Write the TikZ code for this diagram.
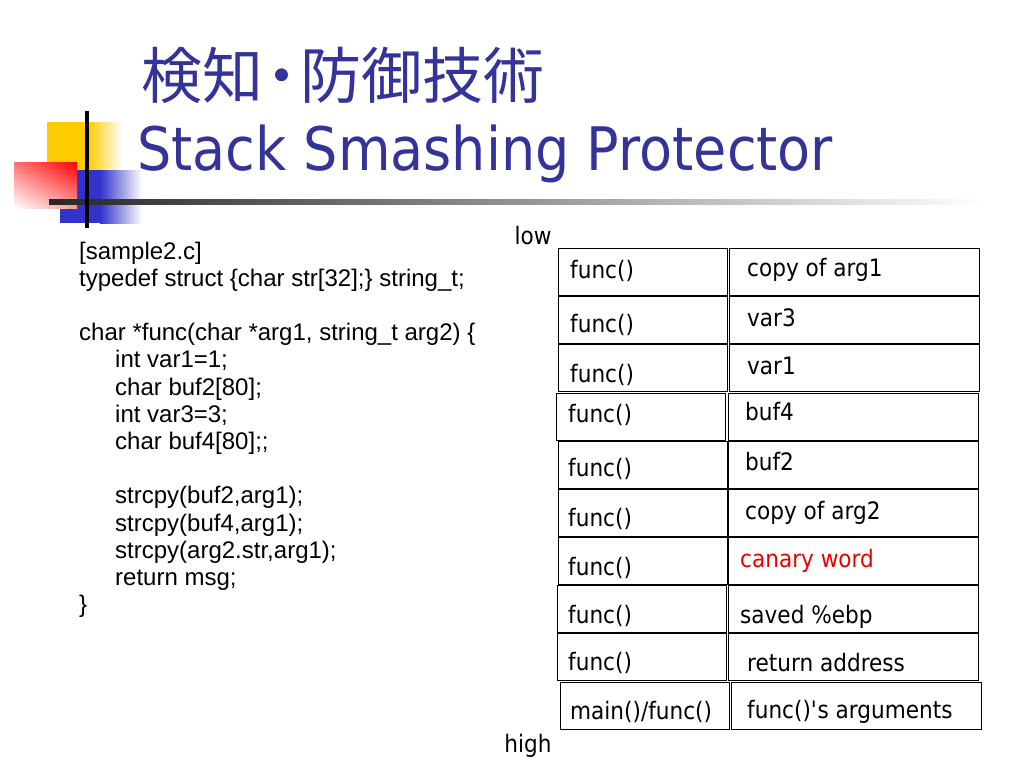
\documentclass[tikz,border=0pt]{standalone}
\usepackage{fontspec}
\usetikzlibrary{shadings}
\setmainfont{Liberation Sans}
\newfontfamily\tahoma[FakeStretch=0.9]{DejaVu Sans}
\newfontfamily\jpfont{Noto Sans CJK JP}
\definecolor{titleblue}{RGB}{51,51,153}
\definecolor{canaryred}{RGB}{230,0,0}
\definecolor{deco yellow}{RGB}{255,204,0}
\definecolor{deco blue}{RGB}{51,51,204}
\tikzset{
  cell/.style={draw, line width=1.3pt, anchor=north west, minimum height=47pt, inner sep=0pt},
  lcell/.style={cell, minimum width=169pt},
  rcell/.style={cell, minimum width=250pt},
  celltext/.style={anchor=base west, inner sep=0pt, font=\tahoma\fontsize{24}{28}\selectfont},
}
\begin{document}
\begin{tikzpicture}[x=1pt, y=-1pt]
  \useasboundingbox (0,0) rectangle (1024,768);

  % 飾り
  \fill[deco yellow] (47,122) rectangle (88,172);
  \shade[left color=deco yellow, right color=white] (88,122) rectangle (122,172);
  \fill[deco blue] (60,170) rectangle (100,223);
  \shade[left color=deco blue, right color=white] (100,170) rectangle (142,223);
  \shade[upper right=red, upper left=red!55, lower right=red!40, lower left=white] (14,162) rectangle (77,208);
  \shade[left color=black!85, right color=white] (49,199) rectangle (985,204);
  \fill[black] (85,111) rectangle (89,228);

  % タイトル
  \node[anchor=base west, inner sep=0pt, text=titleblue, font=\jpfont\fontsize{61}{70}\selectfont] (title1) at (141,98) {検知\kern-12pt・\kern-12pt防御技術};
  \node[anchor=base west, inner sep=0pt, text=titleblue, font=\tahoma\fontsize{60}{70}\selectfont] (title2) at (137,170) {Stack Smashing Protector};

  % ソース
  \node[anchor=north west, inner sep=0pt, align=left, font=\fontsize{24}{27.2}\selectfont] (code) at (79,241.5) {
    [sample2.c]\\
    typedef struct \{char str[32];\} string\_t;\\[27.2pt]
    char *func(char *arg1, string\_t arg2) \{\\
    \hspace*{36pt}int var1=1;\\
    \hspace*{36pt}char buf2[80];\\
    \hspace*{36pt}int var3=3;\\
    \hspace*{36pt}char buf4[80];;\\[27.2pt]
    \hspace*{36pt}strcpy(buf2,arg1);\\
    \hspace*{36pt}strcpy(buf4,arg1);\\
    \hspace*{36pt}strcpy(arg2.str,arg1);\\
    \hspace*{36pt}return msg;\\
    \}};

  % スタック
  \node[lcell] (l1) at (558,248) {};
  \node[lcell] (l2) at (558,296) {};
  \node[lcell] (l3) at (558,344) {};
  \node[lcell] (l4) at (556,393) {};
  \node[lcell] (l5) at (558,441) {};
  \node[lcell] (l6) at (558,489) {};
  \node[lcell] (l7) at (558,537) {};
  \node[lcell] (l8) at (557,585) {};
  \node[lcell] (l9) at (557,633) {};
  \node[lcell] (l10) at (560,682) {};

  \node[rcell] (r1) at (729,248) {};
  \node[rcell] (r2) at (729,296) {};
  \node[rcell] (r3) at (729,344) {};
  \node[rcell] (r4) at (728,393) {};
  \node[rcell] (r5) at (728,441) {};
  \node[rcell] (r6) at (728,489) {};
  \node[rcell] (r7) at (728,537) {};
  \node[rcell] (r8) at (728,585) {};
  \node[rcell] (r9) at (728,633) {};
  \node[rcell] (r10) at (731,682) {};

  % 値を入れる
  \node[celltext] (lt1) at (570,278) {func()};
  \node[celltext] (lt2) at (570,332) {func()};
  \node[celltext] (lt3) at (570,382) {func()};
  \node[celltext] (lt4) at (568,422) {func()};
  \node[celltext] (lt5) at (568,476) {func()};
  \node[celltext] (lt6) at (568,526) {func()};
  \node[celltext] (lt7) at (568,575) {func()};
  \node[celltext] (lt8) at (568,623) {func()};
  \node[celltext] (lt9) at (568,670) {func()};
  \node[celltext] (lt10) at (570,719) {main()/func()};

  \node[celltext] (rt1) at (747,276) {copy of arg1};
  \node[celltext] (rt2) at (747,326) {var3};
  \node[celltext] (rt3) at (747,374) {var1};
  \node[celltext] (rt4) at (745,420) {buf4};
  \node[celltext] (rt5) at (745,470) {buf2};
  \node[celltext] (rt6) at (745,519) {copy of arg2};
  \node[celltext, text=canaryred] (rt7) at (740,567) {canary word};
  \node[celltext] (rt8) at (740,623) {saved \%ebp};
  \node[celltext] (rt9) at (747,671) {return address};
  \node[celltext] (rt10) at (747,718) {func()\textquotesingle s arguments};

  \node[celltext, anchor=base] (low) at (533,244) {low};
  \node[celltext, anchor=base] (high) at (528,752) {high};
\end{tikzpicture}
\end{document}
